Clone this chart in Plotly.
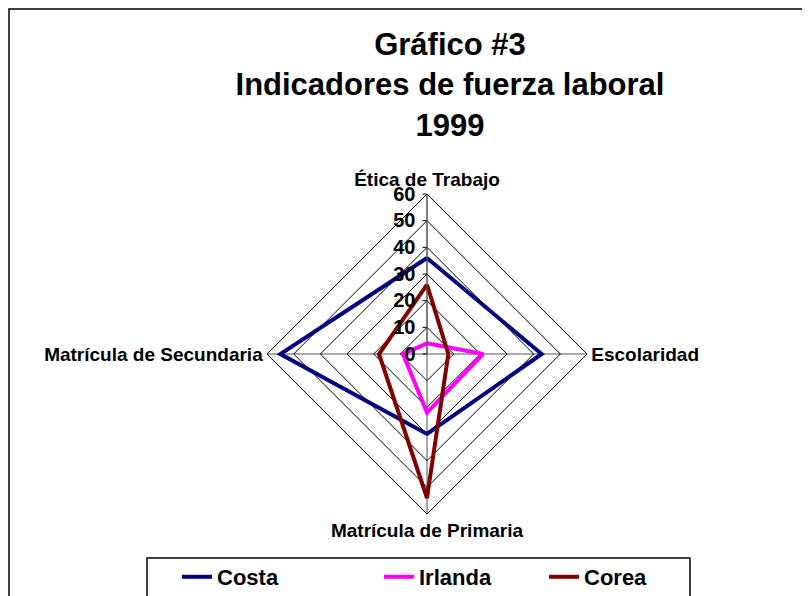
import plotly.graph_objs as go

# Sample Data
indicadores = ['Ética de Trabajo', 'Escolaridad', 'Matrícula de Primaria', 'Matrícula de Secundaria']
costa_rica = [36, 43, 30, 55]
irlanda = [4, 21, 22, 9]
corea = [26, 8, 54, 18]

series = [
    ('Costa<br>Rica', costa_rica, '#000080', 'legend'),
    ('Irlanda', irlanda, '#FF00FF', 'legend2'),
    ('Corea', corea, '#800000', 'legend3'),
]

# page body adds 8px margin, so the figure is 8px smaller than the window
W, H = 802, 588
cx, cy, rad = 419, 346, 160

traces = []
for name, vals, color, leg in series:
    traces.append(go.Scatterpolar(
        r=vals + vals[:1],
        theta=indicadores + indicadores[:1],
        mode='lines',
        name=name,
        line={'color': color, 'width': 4},
        legend=leg,
        showlegend=True
    ))

legend_font = {'family': 'Arial, Liberation Sans', 'size': 22, 'color': 'black', 'weight': 'bold'}
leg_y = 1 - 548 / H


def make_legend(x_px):
    return {
        'x': x_px / W, 'y': leg_y, 'xanchor': 'left', 'yanchor': 'top',
        'font': legend_font, 'bgcolor': 'rgba(0,0,0,0)', 'borderwidth': 0,
        'itemwidth': 30, 'valign': 'top', 'maxheight': 300
    }


layout = go.Layout(
    width=W, height=H,
    showlegend=True,
    margin={'l': 0, 'r': 0, 't': 0, 'b': 0, 'autoexpand': False},
    paper_bgcolor='white',
    font={'family': 'Arial, Liberation Sans', 'color': 'black'},
    title={
        'text': '<b>Gráfico #3<br>Indicadores de fuerza laboral<br>1999</b>',
        'x': 442 / W, 'xanchor': 'center',
        'y': 1 - 47 / H, 'yanchor': 'top',
        'xref': 'paper', 'yref': 'paper',
        'font': {'size': 31, 'family': 'Arial, Liberation Sans', 'color': 'black'}
    },
    polar={
        'domain': {'x': [(cx - rad) / W, (cx + rad) / W],
                   'y': [(H - cy - rad) / H, (H - cy + rad) / H]},
        'bgcolor': 'white',
        'gridshape': 'linear',
        'angularaxis': {
            'rotation': 90, 'direction': 'clockwise',
            'showline': True, 'linecolor': 'black', 'linewidth': 1,
            'gridcolor': '#555555', 'gridwidth': 1,
            'ticks': '',
            'tickfont': {'size': 19, 'weight': 'bold'}
        },
        'radialaxis': {
            'range': [0, 60], 'dtick': 10, 'angle': 90, 'tickangle': 90,
            'side': 'counterclockwise',
            'showline': True, 'linecolor': '#555555', 'linewidth': 1,
            'gridcolor': 'black', 'gridwidth': 1,
            'ticks': 'outside', 'ticklen': 4, 'tickcolor': 'black',
            'tickfont': {'size': 20, 'weight': 'bold'}
        }
    },
    legend=make_legend(169),
    legend2=make_legend(371),
    legend3=make_legend(536),
    shapes=[
        {'type': 'rect', 'xref': 'paper', 'yref': 'paper',
         'x0': 1 / W, 'x1': 1.05, 'y0': -0.1, 'y1': 1 - 1 / H,
         'line': {'color': 'black', 'width': 1.5}},
        {'type': 'rect', 'xref': 'paper', 'yref': 'paper',
         'x0': 139 / W, 'x1': 682 / W, 'y0': -0.1, 'y1': 1 - 550 / H,
         'line': {'color': 'black', 'width': 1.5}},
    ]
)

fig = go.Figure(data=traces, layout=layout)

fig.write_html("out.html")
